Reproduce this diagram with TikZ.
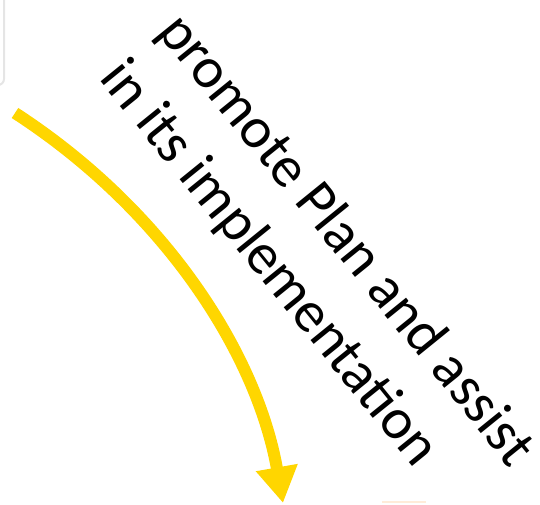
\documentclass[tikz,border=0pt]{standalone}
\usepackage{fontspec}
\setmainfont{Carlito}
\usepackage{tikz}
\usetikzlibrary{arrows.meta}

\definecolor{arrowyellow}{RGB}{255,214,0}

\begin{document}
\begin{tikzpicture}[x=1pt,y=1pt,
        rottext/.style={anchor=base west,inner sep=0pt,transform shape,
            font=\fontsize{58}{70}\selectfont},
        bigarrow/.style={draw=arrowyellow,line width=12pt,
            -{Triangle[width=40pt,length=36pt]}}]
            \useasboundingbox (0,0) rectangle (540,-504);
            % cut-off pieces at the edges
            \draw[gray!20,line width=2pt,rounded corners=6pt] (-30,-85) -- (4,-85) -- (4,20);
            \draw[orange!15,line width=2pt] (382,-502) -- (426,-502);
            \begin{scope}[shift={(156,-32)},rotate=-51]
                \node[rottext] (line1) at (0,0) {promote Plan and assist};
                \node[rottext] (line2) at (0,-74) {in its implementation};
            \end{scope}
            \coordinate (arrowstart) at (15,-113);
            \coordinate (arrowend) at (283,-503);
            \draw[bigarrow] (arrowstart) .. controls (166,-211) and (257,-355) .. (arrowend);
        \end{tikzpicture}
\end{document}
